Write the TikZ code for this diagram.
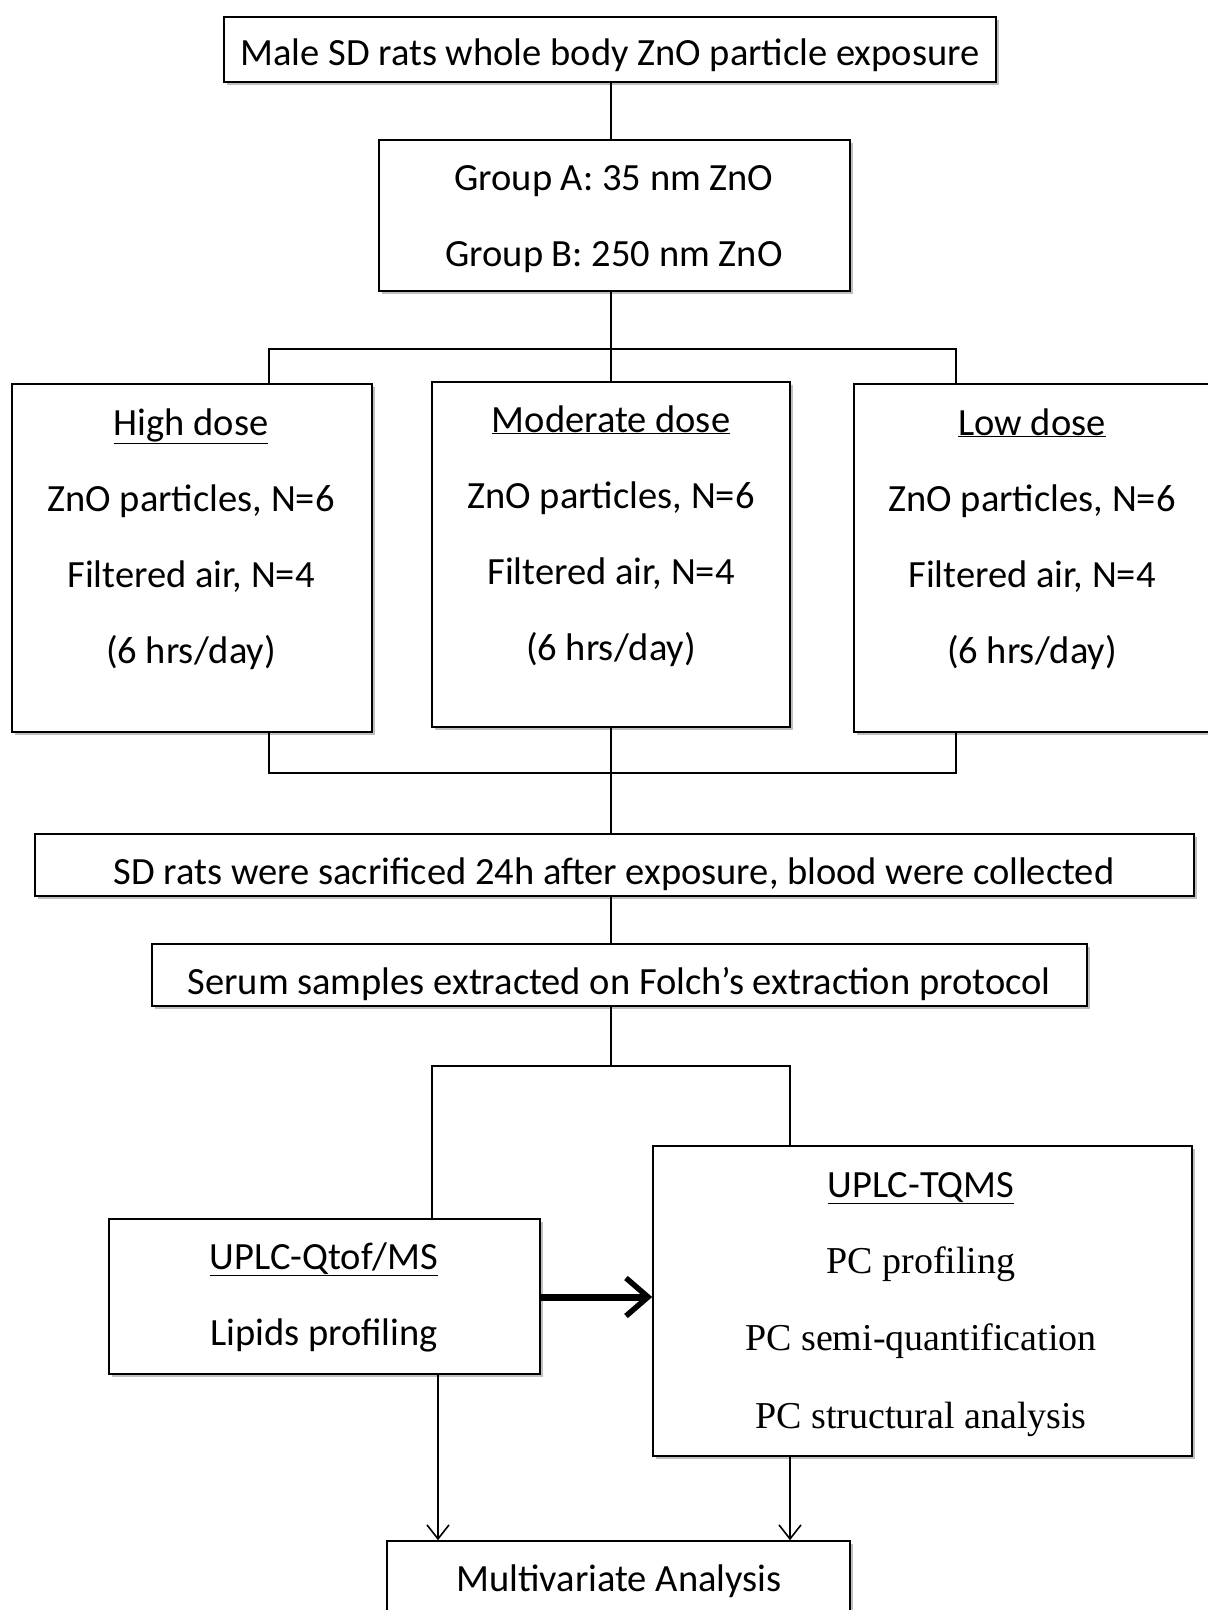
\documentclass[tikz,border=0pt]{standalone}
\usepackage{fontspec}
\setmainfont{Carlito}
\newfontfamily\serifpc{Liberation Serif}
\usetikzlibrary{shadows,arrows.meta}
\begin{document}
\begin{tikzpicture}[x=1pt,y=-1pt,
  box/.style={draw, line width=1.6pt, fill=white, inner sep=0pt,
    drop shadow={shadow xshift=3pt, shadow yshift=-3pt, opacity=0.25, fill=black}},
  txt/.style={font=\fontsize{38.5}{44}\selectfont, inner sep=0pt, anchor=base},
  ptxt/.style={font=\serifpc\fontsize{38}{44}\selectfont, inner sep=0pt, anchor=base},
  conn/.style={line width=1.3pt},
  arr/.style={line width=1.3pt, -{Straight Barb[length=14pt,width=22pt,line width=1.6pt]}},
  bigarr/.style={line width=7pt, -{Straight Barb[length=22pt,width=38pt,line width=5.5pt]}}]
\useasboundingbox (0,0) rectangle (1208,1610);
\fill[white] (0,0) rectangle (1208,1610);

% boxes
\node[box, minimum width=772pt, minimum height=65pt] (top) at (610,49.5) {};
\node[box, minimum width=471pt, minimum height=151pt] (grp) at (614.5,215.5) {};
\node[box, minimum width=360pt, minimum height=348pt] (high) at (192,558) {};
\node[box, minimum width=358pt, minimum height=345pt] (mod) at (611,554.5) {};
\node[box, minimum width=362pt, minimum height=348pt] (low) at (1035,558) {};
\node[box, minimum width=1159pt, minimum height=62pt] (sac) at (614.5,865) {};
\node[box, minimum width=935pt, minimum height=62pt] (ser) at (619.5,975) {};
\node[box, minimum width=431pt, minimum height=155pt] (qtof) at (324.5,1296.5) {};
\node[box, minimum width=539pt, minimum height=310pt] (tqms) at (922.5,1301) {};
\node[box, minimum width=463pt, minimum height=84pt] (mva) at (618.5,1583) {};

% texts
\node[txt] (t0) at (610,65) {Male SD rats whole body ZnO particle exposure};
\node[txt] (g1) at (614,190) {Group A: 35 nm ZnO};
\node[txt] (g2) at (614,266) {Group B: 250 nm ZnO};

\node[txt] (h1) at (191,435) {\underline{High dose}};
\node[txt] (h2) at (191,511) {ZnO particles, N=6};
\node[txt] (h3) at (191,587) {Filtered air, N=4};
\node[txt] (h4) at (191,663) {(6 hrs/day)};

\node[txt] (m1) at (611,432) {\underline{Moderate dose}};
\node[txt] (m2) at (611,508) {ZnO particles, N=6};
\node[txt] (m3) at (611,584) {Filtered air, N=4};
\node[txt] (m4) at (611,660) {(6 hrs/day)};

\node[txt] (l1) at (1032,435) {\underline{Low dose}};
\node[txt] (l2) at (1032,511) {ZnO particles, N=6};
\node[txt] (l3) at (1032,587) {Filtered air, N=4};
\node[txt] (l4) at (1032,663) {(6 hrs/day)};

\node[txt] (s0) at (614,884) {SD rats were sacrificed 24h after exposure, blood were collected};
\node[txt] (r0) at (619,994) {Serum samples extracted on Folch’s extraction protocol};

\node[txt] (q1) at (324,1269) {\underline{UPLC-Qtof/MS}};
\node[txt] (q2) at (324,1345) {Lipids profiling};

\node[txt] (u1) at (921,1197) {\underline{UPLC-TQMS}};
\node[ptxt] (u2) at (921,1273) {PC profiling};
\node[ptxt] (u3) at (921,1350) {PC semi-quantification};
\node[ptxt] (u4) at (921,1428) {PC structural analysis};

\node[txt] (v0) at (619,1591) {Multivariate Analysis};

% connectors
\coordinate (busT) at (611,349);
\coordinate (busB) at (611,773);
\coordinate (split) at (611,1066);
\draw[conn] (top.south -| busT) -- (grp.north -| busT);
\draw[conn] (grp.south -| busT) -- (busT);
\draw[conn] (high.north -| 269,0) |- (busT) -| (low.north -| 956,0);
\draw[conn] (busT) -- (mod.north -| busT);
\draw[conn] (high.south -| 269,0) |- (busB) -| (low.south -| 956,0);
\draw[conn] (mod.south -| busB) -- (sac.north -| busB);
\draw[conn] (sac.south -| busB) -- (ser.north -| busB);
\draw[conn] (ser.south -| busB) -- (split);
\draw[conn] (qtof.north -| 432,0) |- (split) -| (tqms.north -| 790,0);
\draw[bigarr] (qtof.east |- 0,1297) -- (tqms.west |- 0,1297);
\draw[arr] (qtof.south -| 438,0) -- (mva.north -| 438,0);
\draw[arr] (tqms.south -| 790,0) -- (mva.north -| 790,0);
\end{tikzpicture}
\end{document}
